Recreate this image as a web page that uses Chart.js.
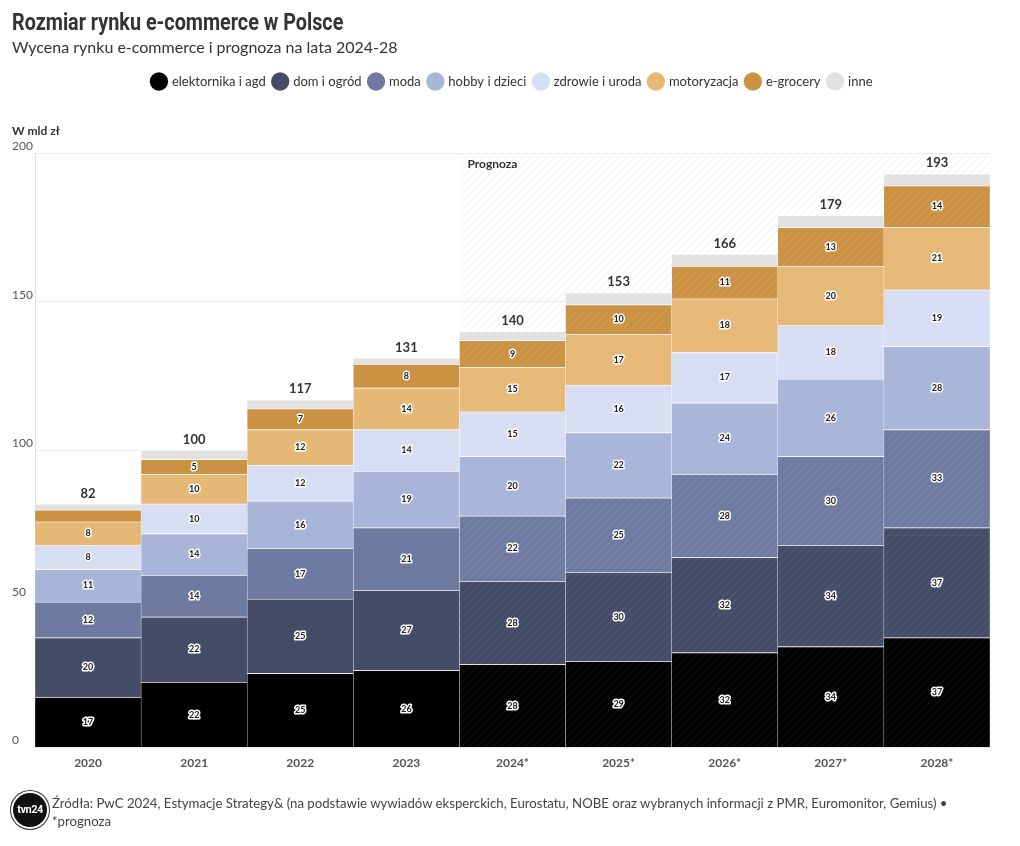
<!DOCTYPE html>
<html>
<head>
<meta charset="utf-8">
<script src="https://cdn.jsdelivr.net/npm/chart.js@4.4.1/dist/chart.umd.min.js"></script>
<style>
  body { margin: 0; background: #fff; font-family: Lato, sans-serif; }
  #wrap { position: relative; width: 1020px; height: 846px; overflow: hidden; }
  #chart { position: absolute; left: 0; top: 0; }
  h1 { position: absolute; left: 12px; top: 9px; margin: 0; font: 700 23px Roboto, sans-serif; color: #333;
       transform: scaleX(0.86); transform-origin: left top; white-space: nowrap; }
  .sub { position: absolute; left: 12px; top: 37px; font: 16px Lato, sans-serif; color: #333; white-space: nowrap; }
  .logo { position: absolute; left: 13px; top: 793px; width: 34px; height: 34px; border-radius: 50%;
          background: #111; color: #fff; font: 700 11px Roboto, sans-serif; text-align: center; line-height: 34px;
          box-shadow: 0 0 0 2px #fff, 0 0 0 3px #333; letter-spacing: -0.5px; }
  .foot { position: absolute; left: 52px; top: 794px; font: 13.2px Lato, sans-serif; color: #444; line-height: 18px; white-space: nowrap; }
</style>
</head>
<body>
<div id="wrap">
  <canvas id="chart" width="1020" height="846"></canvas>
  <h1>Rozmiar rynku e-commerce w Polsce</h1>
  <div class="sub">Wycena rynku e-commerce i prognoza na lata 2024-28</div>
  <div class="logo">tvn24</div>
  <div class="foot">Źródła: PwC 2024, Estymacje Strategy&amp; (na podstawie wywiadów eksperckich, Eurostatu, NOBE oraz wybranych informacji z PMR, Euromonitor, Gemius) •<br>*prognoza</div>
</div>
<script>
// dane (mld zł)
const years = ['2020', '2021', '2022', '2023', '2024*', '2025*', '2026*', '2027*', '2028*'];
const elektronika = [17, 22, 25, 26, 28, 29, 32, 34, 37];
const domOgrod = [20, 22, 25, 27, 28, 30, 32, 34, 37];
const moda = [12, 14, 17, 21, 22, 25, 28, 30, 33];
const hobby = [11, 14, 16, 19, 20, 22, 24, 26, 28];
const zdrowie = [8, 10, 12, 14, 15, 16, 17, 18, 19];
const motoryzacja = [8, 10, 12, 14, 15, 17, 18, 20, 21];
const egrocery = [4, 5, 7, 8, 9, 10, 11, 13, 14];
const inne = [2, 3, 3, 2, 3, 4, 4, 4, 4];
const totals = [82, 100, 117, 131, 140, 153, 166, 179, 193];
const yTicks = [0, 50, 100, 150, 200];
const firstForecast = 4;

const series = [
    { label: 'elektornika i agd', data: elektronika, color: '#000000' },
    { label: 'dom i ogród', data: domOgrod, color: '#444c68' },
    { label: 'moda', data: moda, color: '#6e7a9f' },
    { label: 'hobby i dzieci', data: hobby, color: '#a9b5d8' },
    { label: 'zdrowie i uroda', data: zdrowie, color: '#d7def4' },
    { label: 'motoryzacja', data: motoryzacja, color: '#e6b876' },
    { label: 'e-grocery', data: egrocery, color: '#cc9244' },
    { label: 'inne', data: inne, color: '#e1e1e1' }
];

// wzór w paski dla prognozy
function hatch(color, line) {
    const c = document.createElement('canvas');
    c.width = 8; c.height = 8;
    const g = c.getContext('2d');
    if (color) { g.fillStyle = color; g.fillRect(0, 0, 8, 8); }
    g.strokeStyle = line;
    g.lineWidth = 1.5;
    g.beginPath();
    g.moveTo(0, 8); g.lineTo(8, 0);
    g.moveTo(-2, 2); g.lineTo(2, -2);
    g.moveTo(6, 10); g.lineTo(10, 6);
    g.stroke();
    return g.createPattern(c, 'repeat');
}
const bgHatch = hatch(null, 'rgba(0,0,0,0.035)');

const datasets = series.map((s) => ({
    label: s.label,
    data: s.data,
    backgroundColor: years.map((y, i) => i >= firstForecast ? hatch(s.color, 'rgba(255,255,255,0.06)') : s.color),
    borderColor: 'rgba(255,255,255,0.25)',
    borderWidth: { top: 1, left: 0.5, right: 0.5, bottom: 0 },
    borderSkipped: false,
    barPercentage: 1,
    categoryPercentage: 1
}));

const extras = {
    id: 'extras',
    beforeInit(chart) {
        const fit = chart.legend.fit;
        chart.legend.fit = function () {
            fit.call(this);
            this.height += 55;
        };
    },
    beforeDatasetsDraw(chart) {
        const { ctx, chartArea: a, scales: { x } } = chart;
        const x0 = (x.getPixelForValue(firstForecast - 1) + x.getPixelForValue(firstForecast)) / 2;
        ctx.save();
        ctx.fillStyle = bgHatch;
        ctx.fillRect(x0, a.top, a.right - x0, a.bottom - a.top);
        ctx.font = 'bold 12px Lato';
        ctx.fillStyle = '#333';
        ctx.textBaseline = 'middle';
        ctx.fillText('Prognoza', x0 + 8, a.top + 11);
        ctx.restore();
    },
    afterDatasetsDraw(chart) {
        const ctx = chart.ctx;
        ctx.save();
        ctx.textAlign = 'center';
        ctx.textBaseline = 'middle';
        ctx.lineJoin = 'round';
        // etykiety segmentów
        ctx.font = 'bold 9px Lato';
        chart.data.datasets.forEach((ds, di) => {
            if (ds.label === 'inne') return;
            chart.getDatasetMeta(di).data.forEach((el, i) => {
                const v = ds.data[i];
                if (v < 5) return;
                const cy = (el.y + el.base) / 2;
                ctx.strokeStyle = '#fff';
                ctx.lineWidth = 3;
                ctx.strokeText(v, el.x, cy);
                ctx.fillStyle = '#222';
                ctx.fillText(v, el.x, cy);
            });
        });
        // sumy nad słupkami
        const top = chart.getDatasetMeta(chart.data.datasets.length - 1).data;
        ctx.font = 'bold 13px Lato';
        ctx.fillStyle = '#333';
        ctx.textBaseline = 'bottom';
        top.forEach((el, i) => {
            ctx.fillText(totals[i], el.x, el.y - 4);
        });
        ctx.restore();
    },
    afterDraw(chart) {
        const { ctx, scales: { y } } = chart;
        ctx.save();
        ctx.textAlign = 'left';
        ctx.textBaseline = 'middle';
        ctx.font = '12px Lato';
        ctx.fillStyle = '#555';
        yTicks.forEach((v) => ctx.fillText(v, 12, y.getPixelForValue(v) - 7));
        ctx.font = 'bold 12px Lato';
        ctx.fillStyle = '#333';
        ctx.fillText('W mld zł', 12, y.getPixelForValue(200) - 22);
        ctx.restore();
    }
};

const ctx = document.getElementById('chart').getContext('2d');
const chart = new Chart(ctx, {
    type: 'bar',
    data: { labels: years, datasets: datasets },
    options: {
        responsive: false,
        animation: false,
        layout: { padding: { left: 35, right: 30, top: 67, bottom: 76 } },
        plugins: {
            tooltip: { enabled: false },
            legend: {
                position: 'top',
                labels: {
                    usePointStyle: true,
                    pointStyle: 'circle',
                    boxHeight: 14,
                    padding: 8,
                    color: '#333',
                    font: { family: 'Lato', size: 13 },
                    generateLabels: (c) => series.map((s, i) => ({
                        text: s.label,
                        fillStyle: s.color,
                        strokeStyle: s.color,
                        lineWidth: 0,
                        pointStyle: 'circle',
                        fontColor: '#333',
                        datasetIndex: i,
                        hidden: false
                    }))
                }
            }
        },
        scales: {
            x: {
                stacked: true,
                grid: { display: false },
                border: { display: false },
                ticks: { color: '#555', padding: 0, font: { family: 'Lato', size: 12, weight: 'bold' } }
            },
            y: {
                stacked: true,
                min: 0,
                max: 200,
                ticks: { display: false, stepSize: 50 },
                grid: { color: '#ececec', drawTicks: false },
                border: { display: true, color: '#e0e0e0' }
            }
        }
    },
    plugins: [extras]
});
</script>
</body>
</html>
